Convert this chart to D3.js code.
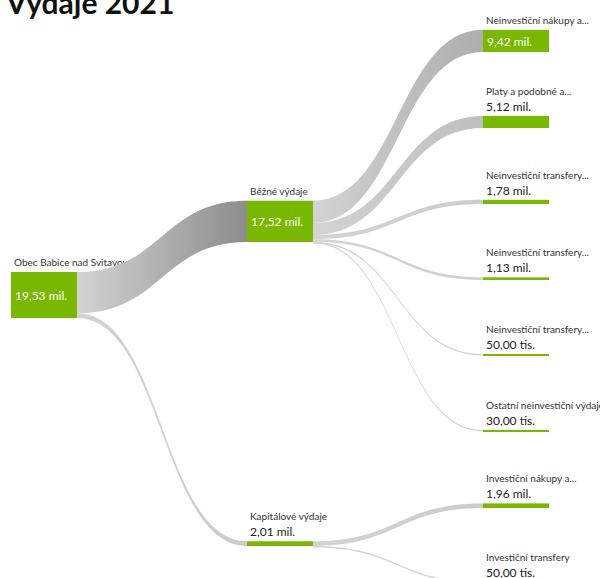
<!DOCTYPE html>
<html>
<head>
<meta charset="utf-8">
<script src="https://cdn.jsdelivr.net/npm/d3@7"></script>
<style>
  body { margin: 0; background: #fff; }
  svg { display: block; font-family: Lato, "Noto Sans", sans-serif; }
</style>
</head>
<body>
<div id="chart"></div>
<script>
// Data (values in mil. Kč)
var nodeNames = [
    "Obec Babice nad Svitavou",
    "Běžné výdaje",
    "Kapitálové výdaje",
    "Neinvestiční nákupy a...",
    "Platy a podobné a...",
    "Neinvestiční transfery...",
    "Neinvestiční transfery...",
    "Neinvestiční transfery...",
    "Ostatní neinvestiční výdaje",
    "Investiční nákupy a...",
    "Investiční transfery"
];
var nodeValues = [19.53, 17.52, 2.01, 9.42, 5.12, 1.78, 1.13, 0.05, 0.03, 1.96, 0.05];
var linkSource = [0, 0, 1, 1, 1, 1, 1, 1, 2, 2];
var linkTarget = [1, 2, 3, 4, 5, 6, 7, 8, 9, 10];
var chartTitle = "Výdaje 2021";

// Globals
var width = 600;
var height = 578;
var nodeWidth = 66;
var green = "#78b800";

var svg = d3.select("#chart")
    .append("svg")
    .attr("width", width)
    .attr("height", height);

// build nodes + links
var nodes = nodeNames.map(function (name, i) {
    return {index: i, name: name, value: nodeValues[i], children: [], depth: 0};
});
var links = linkSource.map(function (s, i) {
    var l = {source: nodes[s], target: nodes[linkTarget[i]], value: nodeValues[linkTarget[i]]};
    nodes[s].children.push(l.target);
    return l;
});

// depth
function setDepth(n, d) {
    n.depth = d;
    n.children.forEach(function (c) { setDepth(c, d + 1); });
}
setDepth(nodes[0], 0);

// leaves in order
var leaves = [];
function collectLeaves(n) {
    if (n.children.length === 0) { n.leafIndex = leaves.length; leaves.push(n); }
    n.children.forEach(collectLeaves);
}
collectLeaves(nodes[0]);

// slot = middle of first and last descendant leaf
function slot(n) {
    if (n.children.length === 0) return [n.leafIndex, n.leafIndex];
    var a = slot(n.children[0]);
    var b = slot(n.children[n.children.length - 1]);
    return [a[0], b[1]];
}

var maxDepth = d3.max(nodes, function (d) { return d.depth; });
var x = d3.scaleLinear().domain([0, maxDepth]).range([11, 483]);
var yBottom = d3.scaleLinear().domain([0, leaves.length - 1]).range([52, 584]);
var h = d3.scaleLinear().domain([0, d3.max(nodeValues)]).range([0, 46]);

nodes.forEach(function (n) {
    var s = slot(n);
    n.x0 = x(n.depth);
    n.x1 = n.x0 + nodeWidth;
    n.h = Math.max(2, h(n.value));
    n.y1 = yBottom((s[0] + s[1]) / 2);
    n.y0 = n.y1 - n.h;
    n.out = n.y0;
});

links.forEach(function (l) {
    var w = h(l.value);
    l.sy0 = l.source.out;
    l.sy1 = l.sy0 + Math.max(1.5, w);
    l.source.out += w;
    l.ty0 = l.target.y0;
    l.ty1 = l.target.y0 + Math.max(1.5, w);
});

var fmtNum = d3.formatLocale({decimal: ",", thousands: " ", grouping: [3], currency: ["", " Kč"]}).format(".2f");
function fmt(v) {
    return v >= 1 ? fmtNum(v) + " mil." : fmtNum(v * 1000) + " tis.";
}

// title
svg.append("text")
    .attr("x", 6)
    .attr("y", 14)
    .text(chartTitle)
    .style("font-size", "30px")
    .style("font-weight", "bold")
    .style("fill", "#111");

// labels (drawn before links, links cover them)
var labelGroup = svg.append("g").attr("class", "labels");

nodes.forEach(function (n) {
    var inside = n.h >= 20;
    labelGroup.append("text")
        .attr("x", n.x0 + 3)
        .attr("y", inside ? n.y0 - 6 : n.y0 - 21)
        .text(n.name)
        .style("font-size", "10px")
        .style("fill", "#333");
    if (!inside) {
        labelGroup.append("text")
            .attr("x", n.x0 + 3)
            .attr("y", n.y0 - 5)
            .text(fmt(n.value))
            .style("font-size", "12px")
            .style("fill", "#222");
    }
});

// link gradients
var defs = svg.append("defs");
var linkColor = d3.scaleLinear()
    .domain([0, d3.max(links, function (l) { return l.value; })])
    .range(["#d3d3d3", "#8c8c8c"]);

links.forEach(function (l, i) {
    var g = defs.append("linearGradient")
        .attr("id", "lg" + i)
        .attr("gradientUnits", "userSpaceOnUse")
        .attr("x1", l.source.x1).attr("x2", l.target.x0)
        .attr("y1", 0).attr("y2", 0);
    g.append("stop").attr("offset", "0%").attr("stop-color", "#d3d3d3");
    g.append("stop").attr("offset", "100%").attr("stop-color", linkColor(l.value));
});

function linkPath(l) {
    var x0 = l.source.x1, x1 = l.target.x0, xm = (x0 + x1) / 2;
    var p = d3.path();
    p.moveTo(x0, l.sy0);
    p.bezierCurveTo(xm, l.sy0, xm, l.ty0, x1, l.ty0);
    p.lineTo(x1, l.ty1);
    p.bezierCurveTo(xm, l.ty1, xm, l.sy1, x0, l.sy1);
    p.closePath();
    return p.toString();
}

svg.append("g")
    .attr("class", "links")
    .selectAll("path")
    .data(links)
    .enter()
    .append("path")
    .attr("d", linkPath)
    .attr("fill", function (d, i) { return "url(#lg" + i + ")"; });

// nodes
var nodeGroup = svg.append("g").attr("class", "nodes");
nodeGroup.selectAll("rect")
    .data(nodes)
    .enter()
    .append("rect")
    .attr("x", function (d) { return d.x0; })
    .attr("y", function (d) { return d.y0; })
    .attr("width", nodeWidth)
    .attr("height", function (d) { return d.h; })
    .attr("fill", green);

nodeGroup.selectAll("text")
    .data(nodes.filter(function (d) { return d.h >= 20; }))
    .enter()
    .append("text")
    .attr("x", function (d) { return d.x0 + 4; })
    .attr("y", function (d) { return d.y0 + d.h / 2 + 5; })
    .text(function (d) { return fmt(d.value); })
    .style("font-size", "12px")
    .style("fill", "#fff");
</script>
</body>
</html>
